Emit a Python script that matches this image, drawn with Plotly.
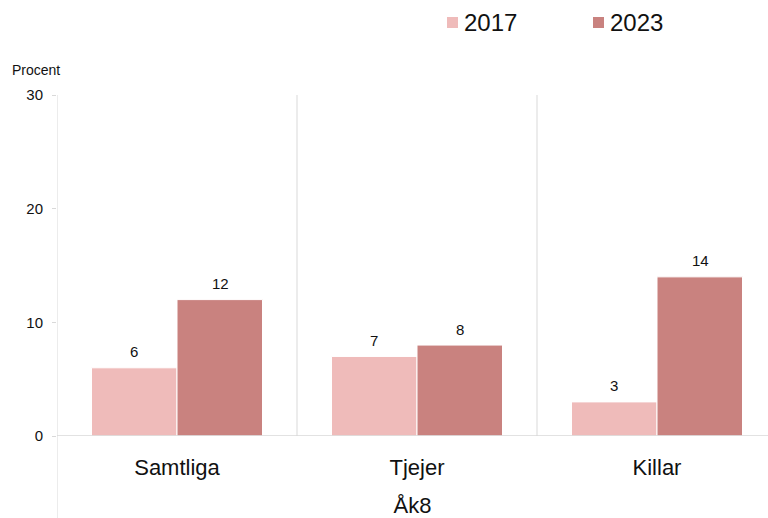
import plotly.graph_objects as go

# data
categories = ['Samtliga', 'Tjejer', 'Killar']
years = ['2017', '2023']
values_2017 = [6, 7, 3]
values_2023 = [12, 8, 14]
colors = ['#EFBBBA', '#C9827F']

font_family = 'Liberation Sans, Arial, sans-serif'
grid_col = '#d9d9d9'

# plot box in pixels, used to place the legend by hand
L, T, W, H = 57, 95, 711, 341
cat_px = 240  # each category is a bit wider than a third, the last one runs off the edge

def px_x(p):
    return (p - L) / W

def px_y(p):
    return (T + H - p) / H

fig = go.Figure()
annotations = []
shapes = []
for i, (year, vals, col) in enumerate(zip(years, [values_2017, values_2023], colors)):
    fig.add_trace(go.Bar(
        x=categories, y=vals, name=year,
        marker=dict(color=col, line=dict(color='white', width=1)),
        showlegend=False,
    ))
    # value labels above each bar
    shift = -43 if i == 0 else 43
    for c, v in zip(categories, vals):
        annotations.append(dict(x=c, y=v, text=str(v), xref='x', yref='y', showarrow=False,
                                xshift=shift, yshift=16, yanchor='middle',
                                font=dict(size=15, color='#111111')))
    # hand made legend entry
    sq = 447 + i * 146
    shapes.append(dict(type='rect', xref='paper', yref='paper',
                       x0=px_x(sq), x1=px_x(sq + 11), y0=px_y(28), y1=px_y(17),
                       fillcolor=col, line=dict(width=0)))
    annotations.append(dict(text=year, xref='paper', yref='paper', x=px_x(sq + 15), y=px_y(23),
                            xanchor='left', yanchor='middle', showarrow=False,
                            font=dict(size=24, color='#111111')))

# separators between categories
for xs in [0.5, 1.5]:
    shapes.append(dict(type='line', xref='x', yref='y', x0=xs, x1=xs, y0=0, y1=30,
                       line=dict(color=grid_col, width=1)))
# left axis line going below baseline
shapes.append(dict(type='line', xref='x', yref='paper', x0=-0.5, x1=-0.5, y0=px_y(518), y1=1,
                   line=dict(color=grid_col, width=1)))
# baseline
shapes.append(dict(type='line', xref='paper', yref='y', x0=0, x1=1, y0=0, y1=0,
                   line=dict(color=grid_col, width=1.5)))

annotations.append(dict(text='Procent', xref='paper', yref='paper', x=px_x(10), y=px_y(70),
                        xanchor='left', yanchor='middle', showarrow=False, font=dict(size=14)))

fig.update_layout(
    width=768, height=518,
    margin=dict(l=L, r=768 - L - W, t=T, b=518 - T - H),
    plot_bgcolor='white', paper_bgcolor='white',
    font=dict(family=font_family, color='#111111'),
    barmode='group', bargap=0.2875, bargroupgap=0,
    shapes=shapes,
    annotations=annotations,
    showlegend=False,
    xaxis=dict(range=[-0.5, -0.5 + W / cat_px], showline=False, showgrid=False, ticks='',
               automargin=False, tickfont=dict(size=22), ticklabelstandoff=16,
               title=dict(text='Åk8', font=dict(size=22), standoff=19)),
    yaxis=dict(range=[0, 30], tickvals=[0, 10, 20, 30], showgrid=False, zeroline=False,
               showline=False, ticks='outside', ticklen=4, tickcolor=grid_col, automargin=False,
               tickfont=dict(size=15), ticklabelstandoff=6),
)

# drop the browser's default body margin so the figure fills the window
fig.write_html('out.html', config={'displayModeBar': False},
               post_script="document.body.style.margin='0px';")
